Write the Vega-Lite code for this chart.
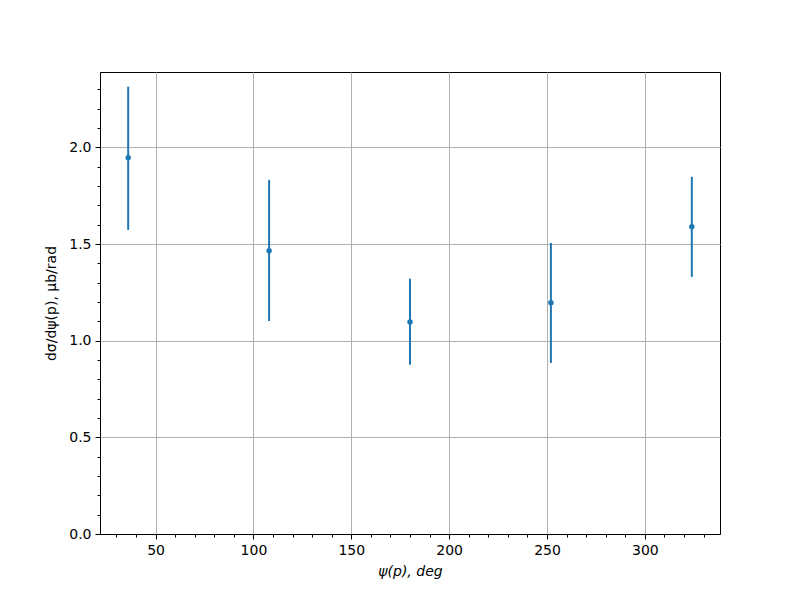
{
  "$schema": "https://vega.github.io/schema/vega-lite/v6.json",
  "width": 620,
  "height": 462,
  "autosize": "none",
  "padding": {"left": 100, "top": 72, "right": 80, "bottom": 66},
  "background": "white",
  "config": {
    "view": {"stroke": "black", "strokeWidth": 1},
    "font": "DejaVu Sans",
    "axis": {
      "labelFont": "DejaVu Sans",
      "titleFont": "DejaVu Sans",
      "labelFontSize": 14,
      "titleFontSize": 14,
      "titleFontWeight": "normal",
      "labelColor": "black",
      "titleColor": "black",
      "domainColor": "black",
      "tickColor": "black",
      "gridColor": "#b0b0b0",
      "gridWidth": 1,
      "labelPadding": 4,
      "labelOverlap": false,
      "labelBound": false,
      "labelFlush": false,
      "tickCount": 200
    }
  },
  "data": {
    "values": [
      {"psi": 36, "y": 1.946, "lo": 1.573, "hi": 2.314},
      {"psi": 108, "y": 1.465, "lo": 1.102, "hi": 1.832},
      {"psi": 180, "y": 1.097, "lo": 0.875, "hi": 1.320},
      {"psi": 252, "y": 1.196, "lo": 0.885, "hi": 1.506},
      {"psi": 324, "y": 1.589, "lo": 1.330, "hi": 1.848}
    ]
  },
  "layer": [
    {
      "mark": {"type": "rule", "color": "#1f77b4", "strokeWidth": 2},
      "encoding": {
        "x": {
          "field": "psi", "type": "quantitative",
          "scale": {"domain": [21.6, 338.4], "nice": false, "zero": false},
          "axis": {
            "title": "ψ(p), deg",
            "titleFontStyle": "italic",
            "titlePadding": 7,
            "tickCount": 200,
            "values": [30, 40, 50, 60, 70, 80, 90, 100, 110, 120, 130, 140, 150, 160, 170, 180, 190, 200, 210, 220, 230, 240, 250, 260, 270, 280, 290, 300, 310, 320, 330],
            "labelExpr": "indexof([50, 100, 150, 200, 250, 300], datum.value) >= 0 ? datum.label : ''",
            "tickSize": {"condition": {"test": "indexof([50, 100, 150, 200, 250, 300], datum.value) >= 0", "value": 5}, "value": 3},
            "gridOpacity": {"condition": {"test": "indexof([50, 100, 150, 200, 250, 300], datum.value) >= 0", "value": 1}, "value": 0},
            "grid": true
          }
        },
        "y": {
          "field": "lo", "type": "quantitative",
          "scale": {"domain": [0, 2.39], "nice": false},
          "axis": {
            "title": "dσ/dψ(p), μb/rad",
            "titlePadding": 10,
            "tickCount": 200,
            "values": [0, 0.1, 0.2, 0.3, 0.4, 0.5, 0.6, 0.7, 0.8, 0.9, 1.0, 1.1, 1.2, 1.3, 1.4, 1.5, 1.6, 1.7, 1.8, 1.9, 2.0, 2.1, 2.2, 2.3],
            "labelExpr": "indexof([0, 0.5, 1, 1.5, 2], datum.value) >= 0 ? format(datum.value, '.1f') : ''",
            "tickSize": {"condition": {"test": "indexof([0, 0.5, 1, 1.5, 2], datum.value) >= 0", "value": 5}, "value": 3},
            "gridOpacity": {"condition": {"test": "indexof([0, 0.5, 1, 1.5, 2], datum.value) >= 0", "value": 1}, "value": 0},
            "grid": true
          }
        },
        "y2": {"field": "hi"}
      }
    },
    {
      "mark": {"type": "point", "filled": true, "color": "#1f77b4", "opacity": 1, "size": 30},
      "encoding": {
        "x": {"field": "psi", "type": "quantitative"},
        "y": {"field": "y", "type": "quantitative"}
      }
    }
  ]
}
